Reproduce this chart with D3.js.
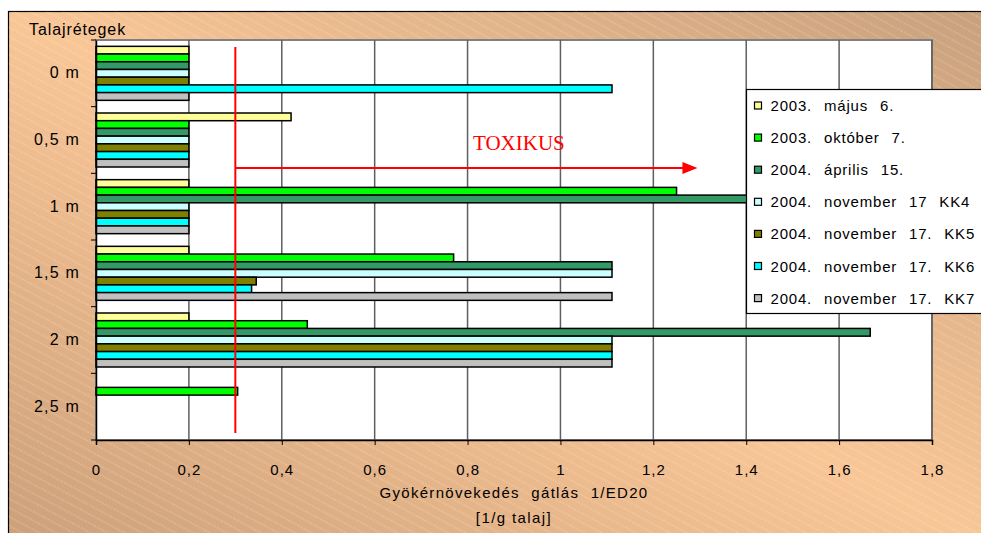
<!DOCTYPE html>
<html>
<head>
<meta charset="utf-8">
<script src="https://cdn.jsdelivr.net/npm/d3@7"></script>
<style>
  body { margin: 0; background: #fff; }
  svg { display: block; }
  text { font-family: "Liberation Sans", Arial, sans-serif; fill: #000; }
</style>
</head>
<body>
<svg id="chart" width="981" height="533"></svg>
<script>
// soil layers (top to bottom)
var categories = ["0 m", "0,5 m", "1 m", "1,5 m", "2 m", "2,5 m"];

var seriesNames = [
    "2003. május 6.",
    "2003. október 7.",
    "2004. április 15.",
    "2004. november 17 KK4",
    "2004. november 17. KK5",
    "2004. november 17. KK6",
    "2004. november 17. KK7"
];
var seriesColors = ["#ffff99", "#00ff00", "#339966", "#ccffff", "#808000", "#00ffff", "#c0c0c0"];

// 1/ED20 values per series, one per layer (null = no measurement)
var majus03   = [0.2, 0.42, 0.2, 0.2, 0.2, null];
var oktober03 = [0.2, 0.2, 1.25, 0.77, 0.455, 0.305];
var aprilis04 = [0.2, 0.2, 1.67, 1.111, 1.667, null];
var kk4       = [0.2, 0.2, 0.2, 1.111, 1.111, null];
var kk5       = [0.2, 0.2, 0.2, 0.345, 1.111, null];
var kk6       = [1.111, 0.2, 0.2, 0.335, 1.111, null];
var kk7       = [0.2, 0.2, 0.2, 1.111, 1.111, null];
var seriesValues = [majus03, oktober03, aprilis04, kk4, kk5, kk6, kk7];

var xTicks = [0, 0.2, 0.4, 0.6, 0.8, 1, 1.2, 1.4, 1.6, 1.8];
var threshold = 0.3;      // toxic limit
var arrowEnd = 1.295;

var svg = d3.select("#chart");
var plot = {left: 96, top: 40, right: 932, bottom: 440};

var x = d3.scaleLinear().domain([0, 1.8]).range([plot.left, plot.right]);
var y = d3.scaleBand().domain(categories).range([plot.top, plot.bottom])
    .paddingInner(0.19).paddingOuter(0.095);
var ySeries = d3.scaleBand().domain(d3.range(seriesNames.length)).range([0, y.bandwidth()]);

var comma = function(d) { return String(d).replace(".", ","); };

// background: gradient + hatching
var defs = svg.append("defs");
var grad = defs.append("linearGradient").attr("id", "bg")
    .attr("x1", 0).attr("y1", 1).attr("x2", 1).attr("y2", 0);
grad.append("stop").attr("offset", "0").attr("stop-color", "#cc9f79");
grad.append("stop").attr("offset", "0.5").attr("stop-color", "#f9c696");
grad.append("stop").attr("offset", "1").attr("stop-color", "#c7a07c");

var hatch = defs.append("pattern").attr("id", "hatch")
    .attr("patternUnits", "userSpaceOnUse")
    .attr("width", 10).attr("height", 8)
    .attr("patternTransform", "rotate(28)");
hatch.append("line").attr("x1", 0).attr("x2", 10).attr("y1", 4).attr("y2", 4)
    .attr("stroke", "#fff").attr("stroke-opacity", 0.35)
    .attr("stroke-width", 0.8).attr("stroke-dasharray", "2,1");

svg.append("rect").attr("x", 8.5).attr("y", 11.5).attr("width", 990).attr("height", 540)
    .attr("fill", "url(#bg)").attr("stroke", "#000").attr("stroke-width", 1.2);
svg.append("rect").attr("x", 8.5).attr("y", 11.5).attr("width", 990).attr("height", 540)
    .attr("fill", "url(#hatch)");

// plot area
svg.append("rect")
    .attr("x", plot.left).attr("y", plot.top)
    .attr("width", plot.right - plot.left).attr("height", plot.bottom - plot.top)
    .attr("fill", "#fff").attr("stroke", "#808080").attr("stroke-width", 2);

// grid
svg.append("g").selectAll("line").data(xTicks.slice(1))
    .join("line")
    .attr("x1", d => x(d)).attr("x2", d => x(d))
    .attr("y1", plot.top).attr("y2", plot.bottom)
    .attr("stroke", "#5f5f5f").attr("stroke-width", 1.5);

// bars
var groups = svg.append("g").selectAll("g").data(categories)
    .join("g")
    .attr("transform", d => "translate(0," + y(d) + ")");

groups.selectAll("rect")
    .data((c, ci) => seriesValues.map((vals, si) => ({s: si, v: vals[ci]})).filter(d => d.v != null))
    .join("rect")
    .attr("x", x(0))
    .attr("y", d => ySeries(d.s))
    .attr("width", d => x(d.v) - x(0))
    .attr("height", ySeries.bandwidth())
    .attr("fill", d => seriesColors[d.s])
    .attr("stroke", "#000").attr("stroke-width", 1.5);

// axes
var xAxis = svg.append("g")
    .attr("transform", "translate(0," + plot.bottom + ")")
    .call(d3.axisBottom(x).tickValues(xTicks).tickFormat(comma).tickSize(5).tickPadding(19));
xAxis.select(".domain").attr("stroke", "#000").attr("stroke-width", 1.5);
xAxis.selectAll(".tick line").attr("stroke", "#000");
xAxis.selectAll("text")
    .style("font-size", "15px").style("letter-spacing", "1px").style("font-family", null);

var yAxis = svg.append("g")
    .attr("transform", "translate(" + plot.left + ",0)")
    .call(d3.axisLeft(y).tickSize(0).tickPadding(16));
yAxis.select(".domain").attr("stroke", "#000").attr("stroke-width", 1.5);
yAxis.selectAll("text")
    .style("font-size", "16px").style("letter-spacing", "1.2px").style("font-family", null);

// boundary ticks between layers
var bounds = d3.range(categories.length + 1).map(i => plot.top + i * y.step());
svg.append("g").selectAll("line").data(bounds)
    .join("line")
    .attr("x1", plot.left - 5).attr("x2", plot.left)
    .attr("y1", d => d).attr("y2", d => d)
    .attr("stroke", "#000");

// titles
svg.append("text").attr("x", 29).attr("y", 35)
    .style("font-size", "16px").style("letter-spacing", "0.9px").text("Talajrétegek");
svg.append("text").attr("x", (plot.left + plot.right) / 2).attr("y", 497.5)
    .attr("text-anchor", "middle")
    .style("font-size", "15px").style("letter-spacing", "1.3px").style("word-spacing", "6px")
    .text("Gyökérnövekedés gátlás 1/ED20");
svg.append("text").attr("x", (plot.left + plot.right) / 2).attr("y", 522.5)
    .attr("text-anchor", "middle")
    .style("font-size", "15px").style("letter-spacing", "1.4px")
    .text("[1/g talaj]");

// toxic annotation
svg.append("line")
    .attr("x1", x(threshold)).attr("x2", x(threshold))
    .attr("y1", 47).attr("y2", 433)
    .attr("stroke", "#ff0000").attr("stroke-width", 2);
var arrowY = y("0,5 m") + y.step() * 0.825;
svg.append("line")
    .attr("x1", x(threshold)).attr("x2", x(arrowEnd) - 14)
    .attr("y1", arrowY).attr("y2", arrowY)
    .attr("stroke", "#ff0000").attr("stroke-width", 2);
svg.append("path")
    .attr("d", "M" + (x(arrowEnd) - 15) + "," + (arrowY - 6) + "L" + x(arrowEnd) + "," + arrowY +
        "L" + (x(arrowEnd) - 15) + "," + (arrowY + 6) + "Z")
    .attr("fill", "#ff0000");
svg.append("text").attr("x", 473).attr("y", 150)
    .style("font-family", "'Liberation Serif', 'Times New Roman', serif")
    .style("font-size", "21px").style("fill", "#ff0000")
    .text("TOXIKUS");

// legend
var legend = svg.append("g").attr("transform", "translate(746.5,89.5)");
legend.append("rect").attr("width", 260).attr("height", 224)
    .attr("fill", "#fff").attr("stroke", "#000").attr("stroke-width", 1.2);
var items = legend.selectAll("g.item").data(seriesNames)
    .join("g").attr("class", "item")
    .attr("transform", (d, i) => "translate(0," + (16 + i * 32.1) + ")");
items.append("rect")
    .attr("x", 8).attr("y", -3.5).attr("width", 7).attr("height", 7)
    .attr("fill", (d, i) => seriesColors[i]).attr("stroke", "#000").attr("stroke-width", 1.2);
items.append("text")
    .attr("x", 24).attr("y", 5.5)
    .style("font-size", "15px").style("letter-spacing", "0.8px").style("word-spacing", "7px")
    .text(d => d);
</script>
</body>
</html>
